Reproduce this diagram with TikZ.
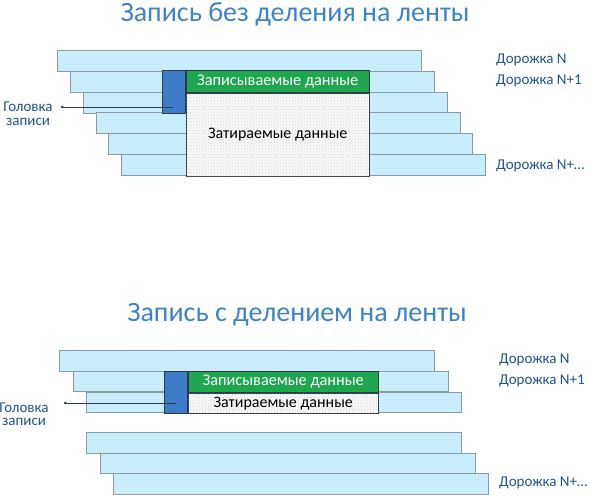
\documentclass[tikz,border=0pt]{standalone}
\usepackage{fontspec}
\setmainfont{Carlito}
\usetikzlibrary{positioning,arrows.meta,patterns}
\definecolor{titleclr}{HTML}{3E83C7}
\definecolor{labelclr}{HTML}{24538F}
\definecolor{trackfill}{HTML}{C9EEFB}
\definecolor{trackline}{HTML}{8C9BA5}
\definecolor{headfill}{HTML}{3D7DC8}
\definecolor{writefill}{HTML}{1EA650}
\definecolor{edgeclr}{HTML}{2E3A44}
\tikzset{
  title/.style     = {font=\fontsize{28}{30}\selectfont, text=titleclr, inner sep=0pt},
  track/.style     = {draw=trackline, fill=trackfill, line width=0.9pt, anchor=north west, inner sep=0pt},
  head/.style      = {draw=edgeclr, fill=headfill, line width=0.8pt, anchor=north west, inner sep=0pt, minimum width=23pt},
  written/.style   = {draw=edgeclr, fill=writefill, line width=0.8pt, inner sep=0pt, text=white, font=\fontsize{16.3}{17}\selectfont},
  erased/.style    = {draw=edgeclr, fill=gray!5, line width=0.8pt, inner sep=0pt, font=\fontsize{16}{17}\selectfont,
                      postaction={pattern=crosshatch dots, pattern color=gray!35}},
  trklabel/.style  = {anchor=west, text=labelclr, inner sep=0pt, font=\fontsize{15}{16}\selectfont},
  headlabel/.style = {align=center, text=labelclr, inner sep=0pt, font=\fontsize{15}{13.5}\selectfont},
  lead/.style      = {{Circle[length=2.5pt]}-, line width=0.7pt, draw=edgeclr},
}

\begin{document}
\begin{tikzpicture}[x=1pt, y=-1pt]
\useasboundingbox (0,0) rectangle (594,495);

%% without bands
\node[title] (titleA) at (295,14) {Запись без деления на ленты};
\foreach \lft/\tp [count=\i] in {57/50,70/70.8,83/91.6,96/112.4,108/133.2,121/154}
  \node[track, minimum width=364pt, minimum height=21pt] (trkA\i) at (\lft,\tp) {};
\node[head, minimum height=43pt] (headA) at (162,70) {};
\node[written, anchor=north west, minimum width=183pt, minimum height=22pt] (writeA) at (headA.north east) {Записываемые данные};
\node[erased, below=0pt of writeA, minimum width=183pt, minimum height=83pt] (eraseA) {Затираемые данные};

\node[trklabel] (lblA1) at (496,60) {Дорожка N};
\node[trklabel] (lblA2) at (496,81) {Дорожка N+1};
\node[trklabel] (lblA3) at (496,166) {Дорожка N+…};

\node[headlabel] (hlblA) at (28,113.5) {Головка\\записи};
\coordinate (dotA) at (61,107);
\coordinate (tipA) at (173,107);
\draw[lead] (dotA) -- (tipA);

%% with bands
\node[title] (titleB) at (297,315) {Запись с делением на ленты};
\foreach \lft/\tp [count=\i] in {59/350,72.5/370.5,86/391.5,86/432,99.5/452.5,113/473}
  \node[track, minimum width=375pt, minimum height=20.5pt] (trkB\i) at (\lft,\tp) {};
\node[head, minimum height=42pt] (headB) at (164,370.5) {};
\node[written, anchor=north west, minimum width=190pt, minimum height=21.5pt] (writeB) at (headB.north east) {Записываемые данные};
\node[erased, below=0pt of writeB, minimum width=190pt, minimum height=20.5pt] (eraseB) {Затираемые данные};

\node[trklabel] (lblB1) at (499,360) {Дорожка N};
\node[trklabel] (lblB2) at (499,381) {Дорожка N+1};
\node[trklabel] (lblB3) at (499,483) {Дорожка N+…};

\node[headlabel] (hlblB) at (24,414) {Головка\\записи};
\coordinate (dotB) at (64,403);
\coordinate (tipB) at (176,403);
\draw[lead] (dotB) -- (tipB);

\end{tikzpicture}
\end{document}
